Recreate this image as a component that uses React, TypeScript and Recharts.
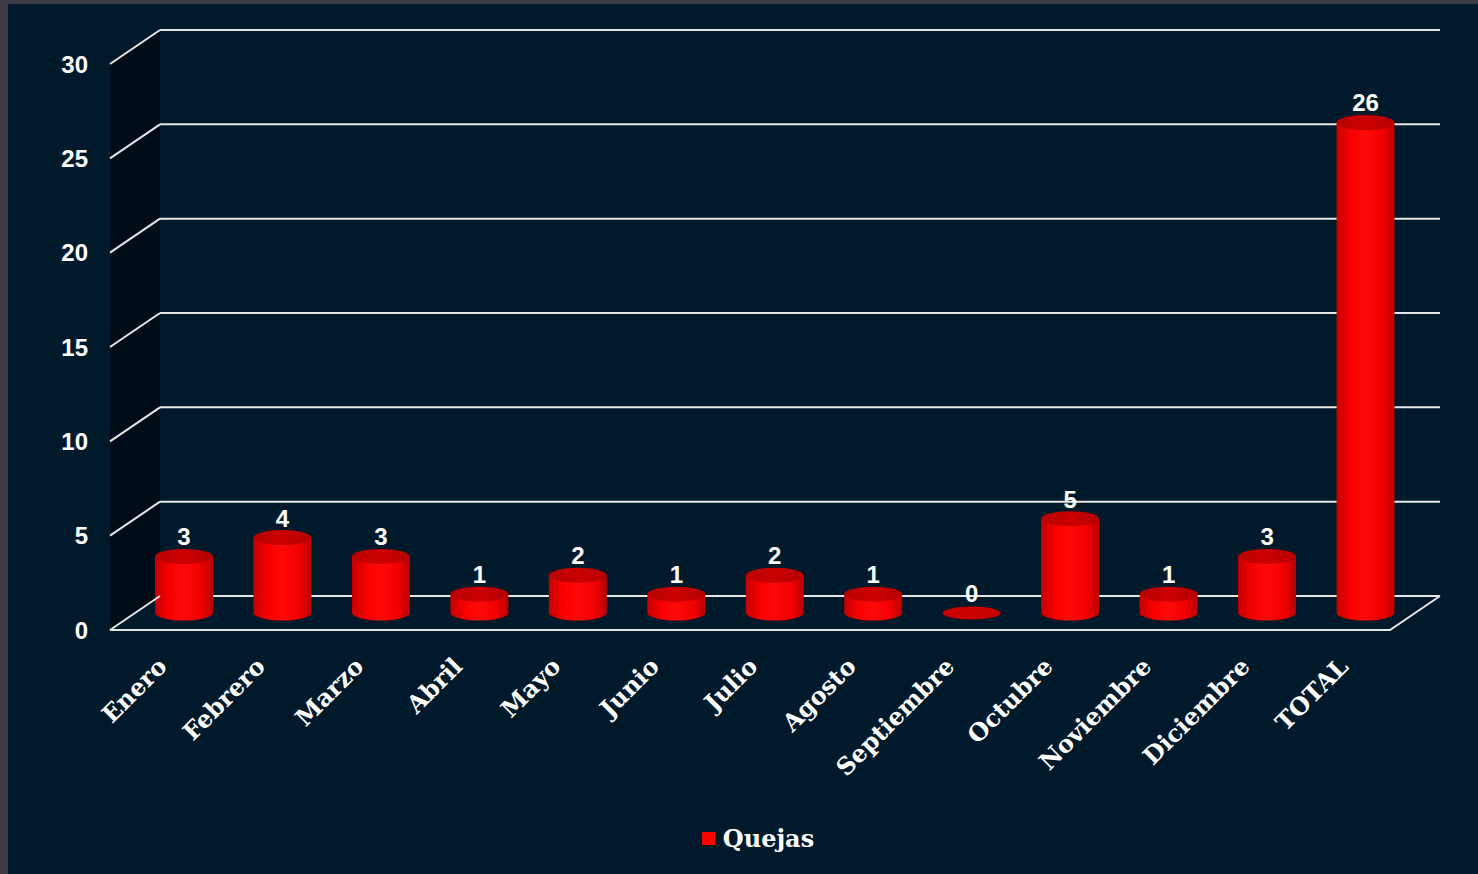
import {
  BarChart,
  Bar,
  XAxis,
  YAxis,
  CartesianGrid,
  Legend,
  LabelList,
  ReferenceArea,
} from "recharts";

const months = [
  "Enero",
  "Febrero",
  "Marzo",
  "Abril",
  "Mayo",
  "Junio",
  "Julio",
  "Agosto",
  "Septiembre",
  "Octubre",
  "Noviembre",
  "Diciembre",
  "TOTAL",
];
const quejas = [3, 4, 3, 1, 2, 1, 2, 1, 0, 5, 1, 3, 26];
const yTicks = [0, 5, 10, 15, 20, 25, 30];

const data = months.map((mes, i) => ({ mes, quejas: quejas[i] }));

// depth of the fake 3d box
const DX = 50;
const DY = 34;
const LINE = "#e6e6e6";
const Y_TICK_GAP = 22;

function Cylinder(props: any) {
  const { x, y, width, height } = props;
  const rx = width / 2;
  const ry = 7.5;
  const cx = x + rx + DX / 2;
  const base = y + height - DY / 2;
  const top = y - DY / 2;
  const left = cx - rx;
  if (height < 1) {
    return <ellipse cx={cx} cy={base} rx={rx} ry={ry - 1} fill="#c80000" />;
  }
  return (
    <g>
      <path
        d={`M${left},${top} L${left},${base} A${rx},${ry} 0 0 0 ${left + width},${base} L${left + width},${top} Z`}
        fill="url(#cyl)"
      />
      <ellipse cx={cx} cy={top} rx={rx} ry={ry} fill="url(#cylTop)" />
    </g>
  );
}

function ValueLabel(props: any) {
  const { x, y, width, value } = props;
  return (
    <text
      x={Number(x) + Number(width) / 2 + DX / 2}
      y={Number(y) - DY / 2 - 11}
      textAnchor="middle"
      fill="#ffffff"
      fontFamily="Liberation Sans"
      fontWeight="bold"
      fontSize={24}
    >
      {value}
    </text>
  );
}

// side wall and floor outline
function Walls(props: any) {
  const { x, y, width, height } = props;
  const bottom = y + height;
  return (
    <g>
      <polygon
        points={`${x},${y} ${x + DX},${y - DY} ${x + DX},${bottom - DY} ${x},${bottom}`}
        fill="#000d18"
      />
      <polyline
        points={`${x},${bottom} ${x + width},${bottom} ${x + width + DX},${bottom - DY}`}
        fill="none"
        stroke={LINE}
        strokeWidth={2}
      />
    </g>
  );
}

// back wall gridlines
const gridLine = (p: any) => (
  <line
    key={p.key}
    x1={p.x1 + DX}
    y1={p.y1 - DY}
    x2={p.x2 + DX}
    y2={p.y2 - DY}
    stroke={LINE}
    strokeWidth={2}
  />
);

// y tick label plus the diagonal on the side wall
function ValueTick(props: any) {
  const { x, y, payload } = props;
  const px = x + Y_TICK_GAP;
  return (
    <g>
      <line
        x1={px}
        y1={y}
        x2={px + DX}
        y2={y - DY}
        stroke={LINE}
        strokeWidth={2}
      />
      <text
        x={x}
        y={y}
        dy="0.36em"
        textAnchor="end"
        fill="#ffffff"
        fontFamily="Liberation Sans"
        fontWeight="bold"
        fontSize={24}
      >
        {payload.value}
      </text>
    </g>
  );
}

function MonthTick(props: any) {
  const { x, y, payload } = props;
  return (
    <text
      transform={`translate(${x + 9},${y + 38}) rotate(-45)`}
      textAnchor="end"
      fill="#ffffff"
      fontFamily="DejaVu Serif"
      fontWeight="bold"
      fontSize={24}
    >
      {payload.value}
    </text>
  );
}

function QuejasLegend() {
  return (
    <div
      style={{
        display: "flex",
        justifyContent: "center",
        alignItems: "center",
        height: 40,
        paddingLeft: 30,
      }}
    >
      <span
        style={{
          display: "inline-block",
          width: 13,
          height: 13,
          background: "#ff0000",
          marginRight: 8,
        }}
      />
      <span
        style={{
          color: "#ffffff",
          fontFamily: "DejaVu Serif",
          fontWeight: "bold",
          fontSize: 24,
        }}
      >
        Quejas
      </span>
    </div>
  );
}

export default function App() {
  return (
    <div
      style={{
        position: "absolute",
        left: 0,
        top: 0,
        width: 1478,
        height: 874,
        background: "#3e3a46",
      }}
    >
      <div
        style={{
          position: "absolute",
          left: 8,
          top: 4,
          width: 1470,
          height: 870,
          background: "#011a2b",
        }}
      >
        <BarChart
          width={1470}
          height={870}
          data={data}
          margin={{ top: 60, right: 88, left: 0, bottom: 16 }}
        >
          <defs>
            <linearGradient id="cyl" x1="0" y1="0" x2="1" y2="0">
              <stop offset="0%" stopColor="#c40000" />
              <stop offset="25%" stopColor="#f80000" />
              <stop offset="50%" stopColor="#ff0a0a" />
              <stop offset="80%" stopColor="#f00000" />
              <stop offset="100%" stopColor="#b80000" />
            </linearGradient>
            <linearGradient id="cylTop" x1="0" y1="0" x2="1" y2="0">
              <stop offset="0%" stopColor="#b80000" />
              <stop offset="50%" stopColor="#cc0000" />
              <stop offset="100%" stopColor="#b40000" />
            </linearGradient>
          </defs>
          <ReferenceArea y1={0} y2={30} shape={<Walls />} ifOverflow="visible" />
          <CartesianGrid vertical={false} horizontal={gridLine} />
          <XAxis
            dataKey="mes"
            axisLine={false}
            tickLine={false}
            tickSize={0}
            tickMargin={0}
            interval={0}
            height={188}
            tick={<MonthTick />}
          />
          <YAxis
            type="number"
            domain={[0, 30]}
            ticks={yTicks}
            width={102}
            axisLine={false}
            tickLine={false}
            tickSize={0}
            tickMargin={Y_TICK_GAP}
            tick={<ValueTick />}
          />
          <Legend
            verticalAlign="bottom"
            content={<QuejasLegend />}
            wrapperStyle={{ left: 0, width: 1470, bottom: 16 }}
          />
          <Bar
            dataKey="quejas"
            barSize={58}
            shape={<Cylinder />}
            isAnimationActive={false}
          >
            <LabelList dataKey="quejas" content={<ValueLabel />} />
          </Bar>
        </BarChart>
      </div>
    </div>
  );
}
